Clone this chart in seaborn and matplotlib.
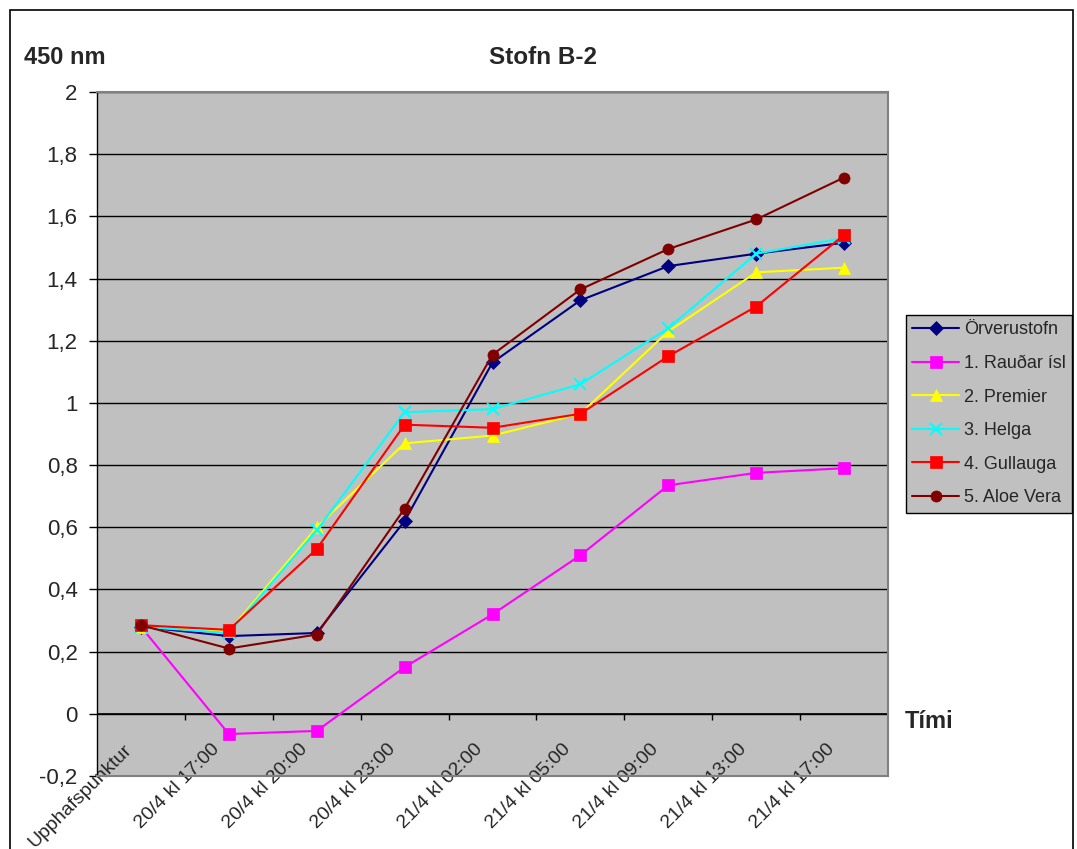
import numpy as np
import pandas as pd
import matplotlib
matplotlib.use('Agg')
import matplotlib.pyplot as plt
import matplotlib.transforms as mtransforms
from matplotlib.patches import Rectangle
from matplotlib.ticker import FuncFormatter, MultipleLocator
import seaborn as sns

# Data
timepoints = ['Upphafspunktur', '20/4 kl 17:00', '20/4 kl 20:00', '20/4 kl 23:00',
              '21/4 kl 02:00', '21/4 kl 05:00', '21/4 kl 09:00', '21/4 kl 13:00',
              '21/4 kl 17:00']
orverustofn = [0.28, 0.25, 0.26, 0.62, 1.13, 1.33, 1.44, 1.48, 1.515]
raudar_isl = [0.28, -0.065, -0.055, 0.15, 0.32, 0.51, 0.735, 0.775, 0.79]
premier = [0.28, 0.265, 0.60, 0.87, 0.895, 0.965, 1.23, 1.42, 1.435]
helga = [0.28, 0.26, 0.59, 0.97, 0.98, 1.06, 1.24, 1.48, 1.53]
gullauga = [0.285, 0.27, 0.53, 0.93, 0.92, 0.965, 1.15, 1.31, 1.54]
aloe_vera = [0.285, 0.21, 0.255, 0.66, 1.155, 1.365, 1.495, 1.59, 1.725]

series_names = ['Örverustofn', '1. Rauðar ísl', '2. Premier', '3. Helga',
                '4. Gullauga', '5. Aloe Vera']
series_values = [orverustofn, raudar_isl, premier, helga, gullauga, aloe_vera]
colors = ['#000080', '#FF00FF', '#FFFF00', '#00FFFF', '#FF0000', '#800000']
markers = ['D', 's', '^', 'x', 's', 'o']
msizes = [7, 8, 9, 9, 8, 8]

rows = []
for name, vals in zip(series_names, series_values):
    for i, v in enumerate(vals):
        rows.append({'series': name, 'pos': i, 'value': v})
df = pd.DataFrame(rows)

sns.set_style('white')
plt.rcParams['font.family'] = ['Liberation Sans', 'DejaVu Sans']

fig = plt.figure(figsize=(10.77, 8.49), dpi=100)
ax = fig.add_axes([97/1077, 1-776/849, (888-97)/1077, (776-92)/849])
ax.set_facecolor('#C0C0C0')

for name, c, m, ms in zip(series_names, colors, markers, msizes):
    sub = df[df['series'] == name]
    sns.lineplot(data=sub, x='pos', y='value', ax=ax, color=c, marker=m,
                 markersize=ms, markeredgecolor=c, markerfacecolor=c,
                 markeredgewidth=1.5 if m == 'x' else 0.5,
                 linewidth=1.5, label=name, legend=False)

ax.set_xlim(-0.5, len(timepoints) - 0.5)
ax.set_ylim(-0.2, 2.0)
ax.yaxis.set_major_locator(MultipleLocator(0.2))
ax.yaxis.set_major_formatter(FuncFormatter(lambda v, p: f'{v:.1f}'.rstrip('0').rstrip('.').replace('.', ',') if abs(v) > 1e-9 else '0'))
ax.grid(axis='y', color='black', linewidth=1)
ax.set_axisbelow(True)
ax.set_xlabel('')
ax.set_ylabel('')

# category axis crosses at zero
ax.axhline(0, color='black', linewidth=1.2, zorder=1)
ax.vlines(np.arange(len(timepoints) - 1) + 0.5, -0.02, 0, color='black', linewidth=1, zorder=1)

ax.set_xticks(range(len(timepoints)))
ax.set_xticklabels(timepoints, rotation=45, ha='right', va='center', rotation_mode='anchor', fontsize=14)
ax.tick_params(axis='x', length=0, pad=0)
offset = mtransforms.ScaledTranslation(-0.12, 0.29, fig.dpi_scale_trans)
for lab in ax.get_xticklabels():
    lab.set_transform(lab.get_transform() + offset)

ax.tick_params(axis='y', left=True, length=6, width=1, color='black', labelsize=16, pad=8)

for s in ['top', 'right', 'bottom']:
    ax.spines[s].set_color('#808080')
    ax.spines[s].set_linewidth(1.5)
ax.spines['left'].set_color('black')
ax.spines['left'].set_linewidth(1)

fig.text(543/1077, 1-57/849, 'Stofn B-2', ha='center', va='center', fontsize=17.5, fontweight='bold')
fig.text(24/1077, 1-57/849, '450 nm', ha='left', va='center', fontsize=17, fontweight='bold')
fig.text(905/1077, 1-722/849, 'Tími', ha='left', va='center', fontsize=17, fontweight='bold')

leg = ax.legend(loc='upper left', bbox_to_anchor=(906/1077, 1-315/849),
                bbox_transform=fig.transFigure, fontsize=13, frameon=True,
                fancybox=False, facecolor='#C0C0C0', edgecolor='black',
                framealpha=1, handlelength=2.6, borderpad=0.35, labelspacing=0.92,
                handletextpad=0.25, borderaxespad=0)
leg.get_frame().set_linewidth(1)

fig.patches.append(Rectangle((10/1077, -0.01), (1073-10)/1077, 1.01-10/849,
                             transform=fig.transFigure, fill=False,
                             edgecolor='black', linewidth=1.2))

fig.savefig('out.png', dpi=100)
